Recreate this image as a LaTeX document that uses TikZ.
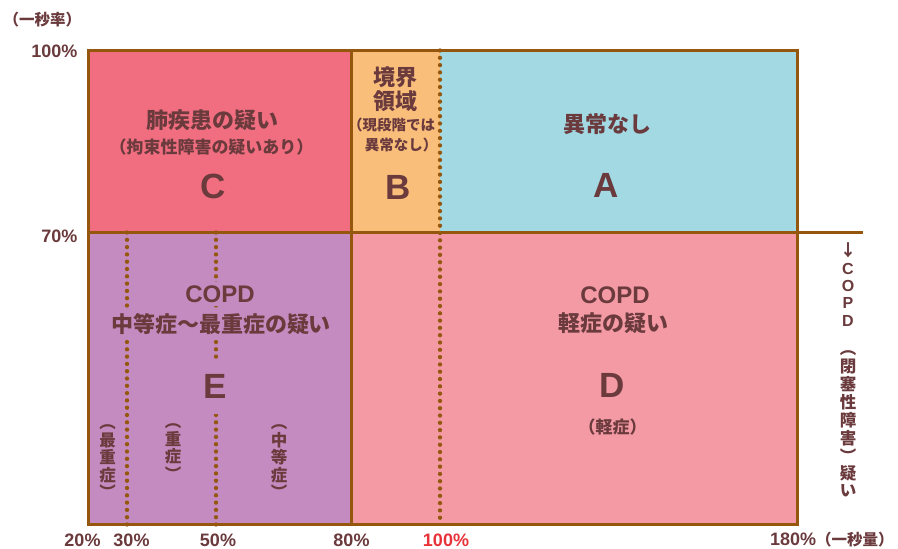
\documentclass[tikz,border=0pt]{standalone}
\usepackage{fontspec}
\setmainfont{Liberation Sans}
\newfontfamily\jp{Noto Sans CJK JP}
\definecolor{cC}{HTML}{F06E7F}
\definecolor{cB}{HTML}{FABE7B}
\definecolor{cA}{HTML}{A2D9E3}
\definecolor{cE}{HTML}{C38BBF}
\definecolor{cD}{HTML}{F39AA4}
\definecolor{brd}{HTML}{95570E}
\definecolor{txt}{HTML}{6A3A3D}
\definecolor{red100}{HTML}{E8323A}
\begin{document}
\begin{tikzpicture}[x=1pt,y=-1pt,
  nodes={text=txt, inner sep=0pt},
  frame/.style={draw=brd, line width=3pt},
  dotline/.style={draw=brd, line width=4.3pt, line cap=round, dash pattern=on 0pt off 7.3pt},
  ttl/.style={font=\jp\bfseries\fontsize{22}{24}\selectfont},
  subt/.style={font=\jp\bfseries\fontsize{17}{19}\selectfont},
  subb/.style={font=\jp\bfseries\fontsize{14.5}{16}\selectfont},
  big/.style={font=\bfseries\fontsize{35}{40}\selectfont},
  copd/.style={font=\bfseries\fontsize{24}{28}\selectfont},
  ax/.style={font=\bfseries\fontsize{18}{20}\selectfont},
  vch/.style={font=\jp\bfseries\fontsize{16.5}{17.5}\selectfont, anchor=base},
  vlat/.style={font=\bfseries\fontsize{16}{17}\selectfont, anchor=base}
]
\useasboundingbox (0,0) rectangle (898,549);

% region fills
\fill[cC] (88.5,50.5) rectangle (351.5,232.5);
\fill[cB] (351.5,50.5) rectangle (440,232.5);
\fill[cA] (440,50.5) rectangle (797.5,232.5);
\fill[cE] (88.5,232.5) rectangle (351.5,524.5);
\fill[cD] (351.5,232.5) rectangle (797.5,524.5);

% dotted lines
\coordinate (p100t) at (440,50.5);
\coordinate (p100b) at (440,524.5);
\coordinate (p30t) at (127,232.5);
\coordinate (p30b) at (127,524.5);
\coordinate (p50t) at (216,232.5);
\coordinate (p50b) at (216,524.5);
\draw[dotline] (p100t) -- (p100b);
\draw[dotline] (p30t) -- (p30b);
\draw[dotline] (p50t) -- (p50b);

% frame and dividers
\coordinate (tl) at (88.5,50.5);
\coordinate (br) at (797.5,524.5);
\coordinate (m80t) at (351.5,50.5);
\coordinate (m80b) at (351.5,524.5);
\coordinate (h70l) at (88.5,232.5);
\coordinate (h70r) at (862.5,232.5);
\draw[frame] (tl) rectangle (br);
\draw[frame] (m80t) -- (m80b);
\draw[frame] (h70l) -- (h70r);

% region C
\node[ttl] (c1) at (212,120) {肺疾患の疑い};
\node[subt] (c2) at (211.5,147.5) {（拘束性障害の疑いあり）};
\node[big] (c3) at (213.5,186) {C};

% region B
\node[ttl] (b1) at (395,77.5) {境界};
\node[ttl] (b2) at (395,101) {領域};
\node[subb] (b3) at (391.5,125) {（現段階では};
\node[subb] (b4) at (401,145) {異常なし）};
\node[big] (b5) at (398.5,187.5) {B};

% region A
\node[ttl] (a1) at (607.5,124.5) {異常なし};
\node[big] (a2) at (606.5,185.5) {A};

% region D
\node[copd] (d1) at (615,295) {COPD};
\node[ttl] (d2) at (613.5,323.5) {軽症の疑い};
\node[big] (d3) at (612.5,385.5) {D};
\node[subt] (d4) at (612.5,427.5) {（軽症）};

% region E (labels mask the dotted lines)
\node[copd, fill=cE, inner xsep=2pt, inner ysep=4pt] (e1) at (220,294) {COPD};
\node[ttl, fill=cE, inner xsep=2pt, inner ysep=4pt] (e2) at (221,324) {中等症～最重症の疑い};
\node[big, fill=cE, inner xsep=3pt, minimum height=55pt] (e3) at (215,386) {E};

\foreach \c/\yy [count=\i] in {︵/428.5, 最/446, 重/463.5, 症/481, ︶/498.5}
  \node[vch] (vs1-\i) at (107.5,\yy) {\c};
\foreach \c/\yy [count=\i] in {︵/427, 重/445, 症/462.5, ︶/480}
  \node[vch] (vs2-\i) at (173,\yy) {\c};
\foreach \c/\yy [count=\i] in {︵/428.5, 中/446, 等/463.5, 症/481, ︶/498.5}
  \node[vch] (vs3-\i) at (279,\yy) {\c};

% right-hand vertical caption
\node[vch] (r0) at (848,256) {↓};
\foreach \c/\yy [count=\i] in {C/274, O/291, P/308.5, D/326}
  \node[vlat] (rl-\i) at (848,\yy) {\c};
\foreach \c/\yy [count=\i] in {︵/354, 閉/372, 塞/390, 性/408, 障/426, 害/444, ︶/462, 疑/479, い/496}
  \node[vch] (rc-\i) at (848,\yy) {\c};

% axis labels
\node[font=\jp\bfseries\fontsize{15.5}{17}\selectfont] (ylab) at (42.5,20) {（一秒率）};
\node[ax, anchor=east] (y100) at (77.5,51.5) {100\%};
\node[ax, anchor=east] (y70) at (77.5,236) {70\%};
\node[ax] (x20) at (82.5,540) {20\%};
\node[ax] (x30) at (131.5,540) {30\%};
\node[ax] (x50) at (218,540) {50\%};
\node[ax] (x80) at (351.5,540) {80\%};
\node[ax, text=red100] (x100) at (446,540) {100\%};
\node[ax, anchor=west] (x180) at (770,540) {180\%{\jp\fontsize{15.5}{17}\selectfont （一秒量）}};
\end{tikzpicture}
\end{document}
